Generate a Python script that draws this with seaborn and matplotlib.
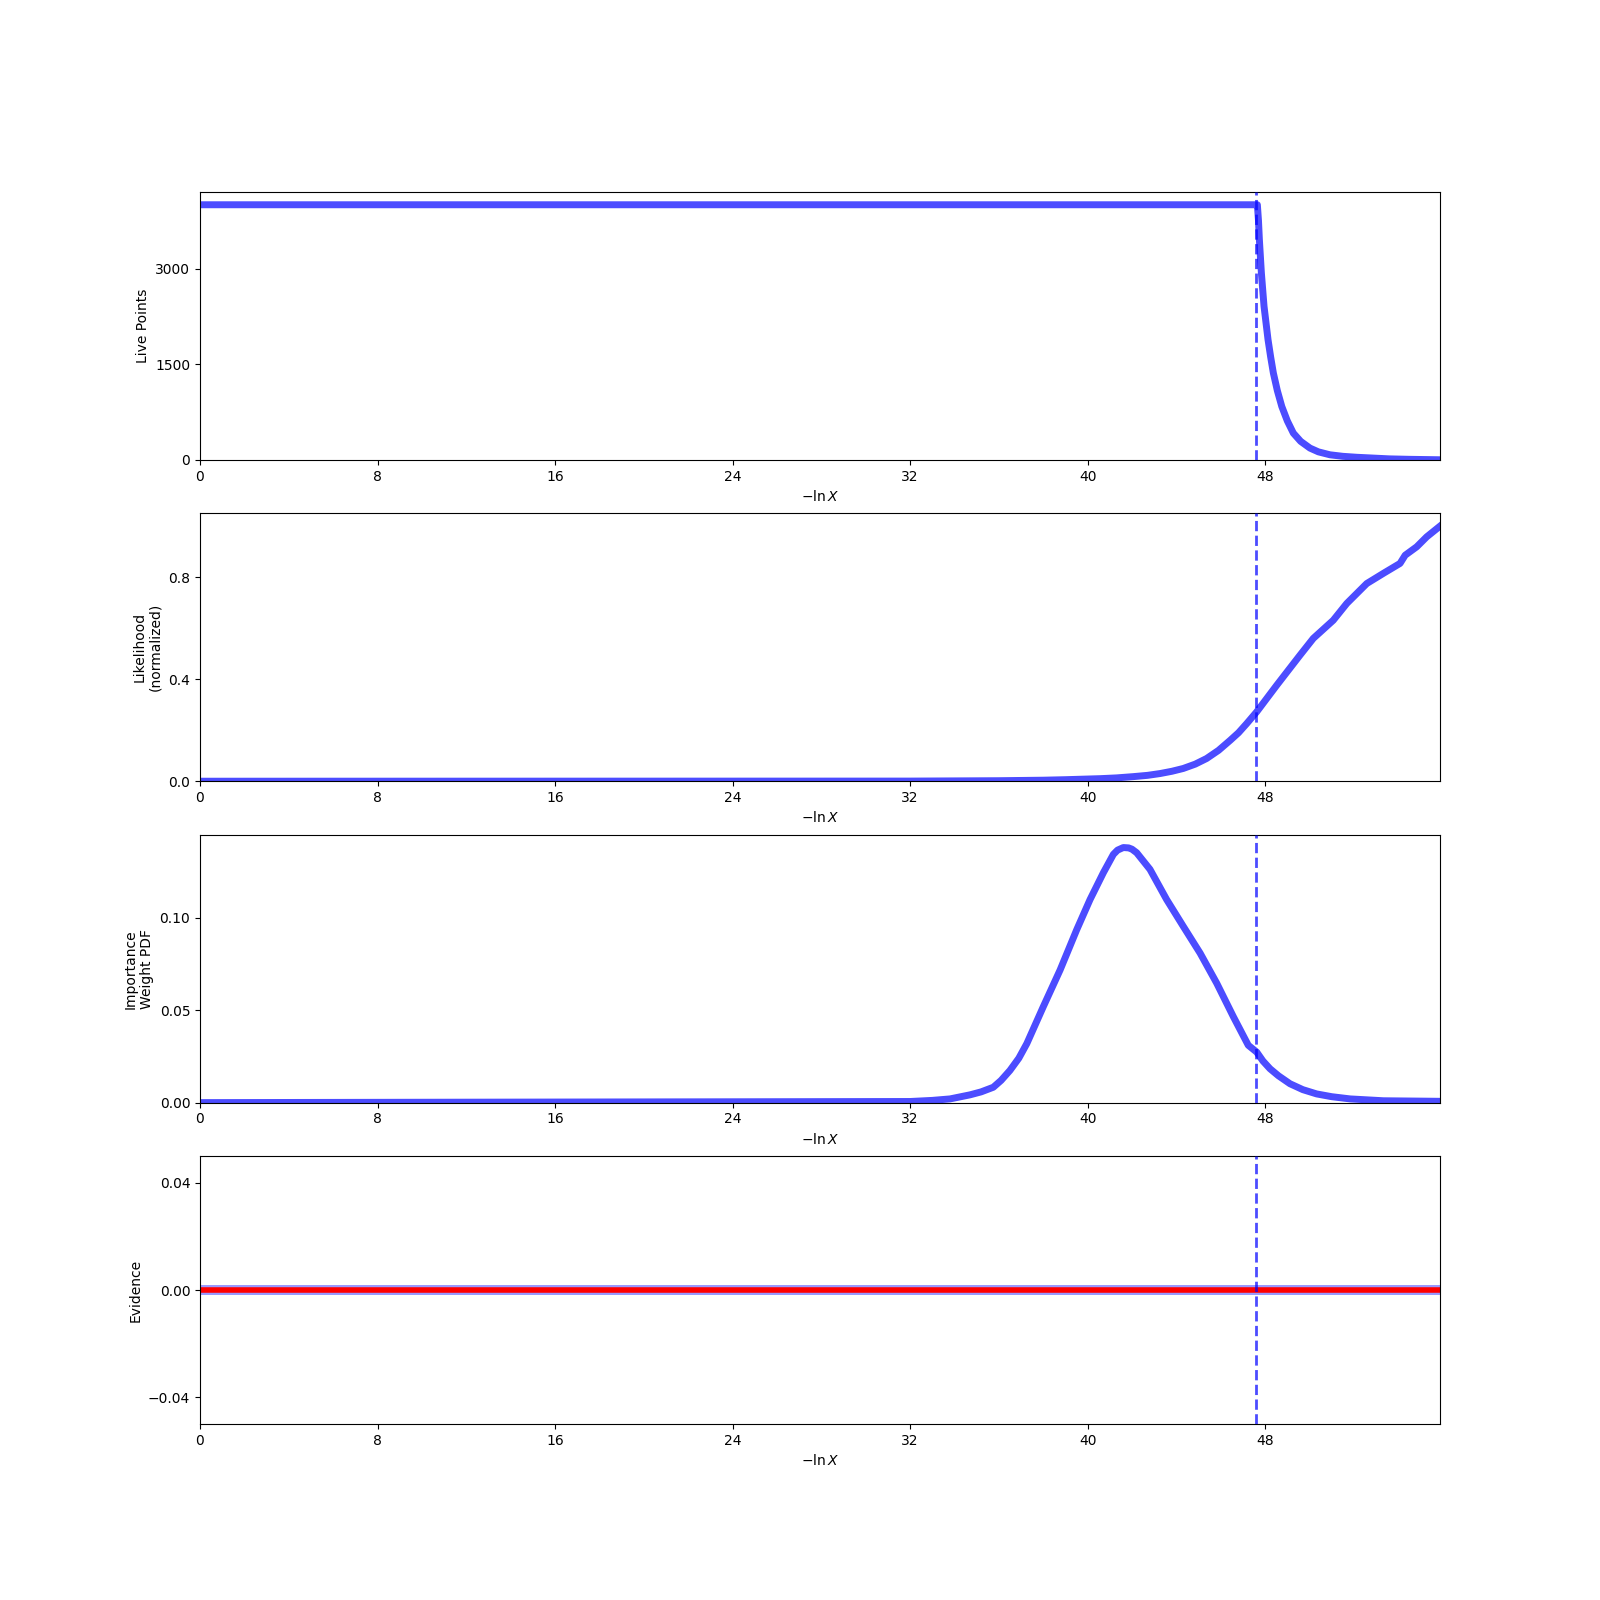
import numpy as np
import pandas as pd
import matplotlib
matplotlib.use("Agg")
import matplotlib.pyplot as plt
import seaborn as sns

# ---- data ----
x_max = 55.88
final_live_x = 47.59

live_x = [0.0, 47.59, 47.65, 47.70, 47.74, 47.83, 47.95, 48.13, 48.25, 48.37,
          48.55, 48.75, 49.0, 49.27, 49.6, 50.02, 50.4, 50.92, 51.5, 52.13,
          53.6, 54.5, 55.88]
live_y = [4000, 4000, 4000, 3750, 3456, 2933, 2408, 1885, 1610, 1362,
          1085, 837, 610, 419, 290, 184, 125, 79, 55, 40,
          15, 8, 1]

like_x = [0.0, 32.0, 36.0, 38.0, 39.0, 40.56, 41.3, 42.06, 42.7, 43.26,
          43.8, 44.31, 44.85, 45.36, 45.9, 46.42, 46.8, 47.17, 47.62, 48.0,
          48.52, 49.0, 49.57, 50.17, 51.07, 51.68, 52.58, 53.33, 54.08, 54.31,
          54.83, 55.28, 55.88]
like_y = [0.0, 0.0005, 0.002, 0.004, 0.006, 0.01, 0.013, 0.018, 0.023, 0.03,
          0.039, 0.05, 0.067, 0.089, 0.121, 0.16, 0.19, 0.226, 0.272, 0.316,
          0.376, 0.43, 0.494, 0.56, 0.631, 0.697, 0.775, 0.815, 0.854, 0.886,
          0.919, 0.958, 1.0]

imp_x = [0.0, 32.0, 33.0, 33.8, 34.7, 35.2, 35.75, 36.1, 36.5, 36.9,
         37.26, 38.0, 38.76, 39.51, 40.11, 40.71, 41.16, 41.35, 41.61, 41.85,
         42.0, 42.21, 42.81, 43.56, 44.31, 45.07, 45.82, 46.57, 47.24, 47.62,
         47.9, 48.22, 48.6, 49.12, 49.7, 50.32, 51.0, 51.83, 53.33, 55.88]
imp_y = [0.0, 0.0006, 0.0012, 0.002, 0.0042, 0.0058, 0.0083, 0.012, 0.0174, 0.024,
         0.0319, 0.0518, 0.0717, 0.0935, 0.1098, 0.1243, 0.1342, 0.1365, 0.1379, 0.1377,
         0.137, 0.1351, 0.1261, 0.1098, 0.0953, 0.0808, 0.0645, 0.0464, 0.031, 0.0273,
         0.0225, 0.0183, 0.0145, 0.0102, 0.007, 0.0047, 0.0032, 0.002, 0.001, 0.0007]

evid_x = [0.0, 55.88]
evid_y = [0.0, 0.0]
evid_err = [0.0019, 0.0019]

x_ticks = [0, 8, 16, 24, 32, 40, 48]
ylabels = ["Live Points", "Likelihood\n(normalized)", "Importance\nWeight PDF", "Evidence"]
y_ticks = [[0, 1500, 3000], [0.0, 0.4, 0.8], [0.0, 0.05, 0.10], [-0.04, 0.0, 0.04]]

# ---- plot ----
fig, axes = plt.subplots(4, 1, figsize=(16, 16), dpi=100)

series = [(live_x, live_y), (like_x, like_y), (imp_x, imp_y)]
for ax, (xs, ys) in zip(axes[:3], series):
    df = pd.DataFrame({"x": xs, "y": ys})
    sns.lineplot(data=df, x="x", y="y", ax=ax, color="blue", alpha=0.7,
                 linewidth=5, estimator=None, sort=True)
    ax.set_ylim(0, 1.05 * max(ys))

ax = axes[3]
ev = np.array(evid_y)
er = np.array(evid_err)
ax.fill_between(evid_x, ev - er, ev + er, color="blue", alpha=0.4, linewidth=0)
dfe = pd.DataFrame({"x": evid_x, "y": evid_y})
sns.lineplot(data=dfe, x="x", y="y", ax=ax, color="red", linewidth=4,
             estimator=None)
ax.set_ylim(-0.05, 0.05)

for ax, lab, yt in zip(axes, ylabels, y_ticks):
    ax.axvline(final_live_x, color="blue", alpha=0.7, ls="--", lw=2, zorder=10)
    ax.set_xlim(0, x_max)
    ax.set_xticks(x_ticks)
    ax.set_yticks(yt)
    ax.set_xlabel(r"$-\ln X$")
    ax.set_ylabel(lab)

fig.savefig("out.png", dpi=100)
